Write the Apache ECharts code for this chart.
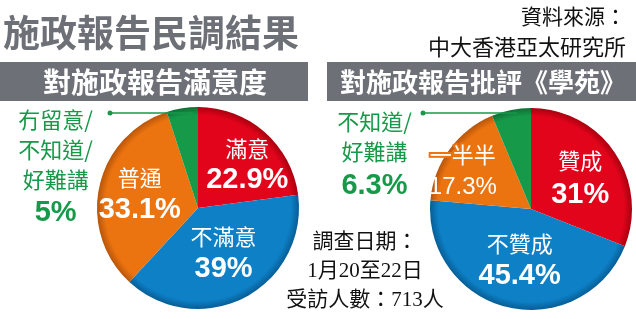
<!DOCTYPE html>
<html><head><meta charset="utf-8">
<script src="https://cdn.jsdelivr.net/npm/echarts@6/dist/echarts.min.js"></script>
<style>html,body{margin:0;padding:0;background:#fff}#c{width:636px;height:319px}</style>
</head><body><div id="c"></div>
<script>
const leftNames = ['滿意', '不滿意', '普通', '冇留意/\n不知道/\n好難講'];
const leftValues = [22.9, 39, 33.1, 5];
const rightNames = ['贊成', '不贊成', '一半半', '不知道/\n好難講'];
const rightValues = [31, 45.4, 17.3, 6.3];
const mainTitle = '施政報告民調結果';
const sourceLines = ['資料來源：', '中大香港亞太研究所'];
const leftHeader = '對施政報告滿意度';
const rightHeader = '對施政報告批評《學苑》';
const noteLines = ['調查日期：', '1月20至22日', '受訪人數：713人'];

const RED = '#e2041b', BLUE = '#0d80c6', ORANGE = '#ec7410', GREEN = '#17994a';
const baseColors = [RED, BLUE, ORANGE, GREEN];
const darkColors = ['#a8000f', '#075d95', '#b8550a', '#0e6f34'];
const GRAY = '#6d7077';
const CJK = '"Noto Sans CJK TC", "Noto Sans CJK SC", sans-serif';
const NUM = '"Liberation Sans", Arial, sans-serif';

function grad(cx, cy, r, i) {
  return {type: 'radial', x: cx, y: cy, r: r, global: true,
    colorStops: [{offset: 0, color: baseColors[i]}, {offset: 0.92, color: baseColors[i]}, {offset: 1, color: darkColors[i]}]};
}

const rich = {
  n: {color: '#fff', fontSize: 22, fontFamily: CJK, lineHeight: 31},
  v: {color: '#fff', fontSize: 29, fontWeight: 'bold', fontFamily: NUM, lineHeight: 33},
  rv: {color: '#fff', fontSize: 29, fontWeight: 'bold', fontFamily: NUM, lineHeight: 39},
  gn: {color: GREEN, fontSize: 22, fontFamily: CJK, lineHeight: 30},
  gv: {color: GREEN, fontSize: 29, fontWeight: 'bold', fontFamily: NUM, lineHeight: 37},
  on: {color: '#fff', fontSize: 22, fontFamily: CJK, lineHeight: 31, textBorderColor: ORANGE, textBorderWidth: 4},
  ov: {color: '#fff', fontSize: 24, fontFamily: NUM, lineHeight: 33}
};

function buildData(names, values, cx, cy, r, offsets, styles) {
  return names.map((n, i) => ({
    name: n, value: values[i],
    itemStyle: {color: grad(cx, cy, r, i)},
    label: {offset: offsets[i], formatter: '{' + styles[i][0] + '|' + n + '}\n{' + styles[i][1] + '|' + values[i] + '%}'}
  }));
}

const LC = [198, 208], RC = [531, 209], R = 101;
const leftData = buildData(leftNames, leftValues, LC[0], LC[1], R,
  [[14, -3], [1, -2], [-6, -2], [-134, 13]], [['n','v'],['n','v'],['n','v'],['gn','gv']]);
const rightData = buildData(rightNames, rightValues, RC[0], RC[1], R,
  [[5, 1], [1, -1], [-25, -6], [-146, -1]], [['n','rv'],['n','v'],['on','ov'],['gn','gv']]);

const pieBase = {
  type: 'pie', radius: R, startAngle: 90, clockwise: true, silent: true,
  label: {show: true, position: 'inside', rich: rich, align: 'center'},
  labelLine: {show: false}, emphasis: {disabled: true}
};

const graphics = [
  {type: 'text', left: 3, top: 14, style: {text: mainTitle, font: 'bold 37px ' + CJK, fill: GRAY}},
  {type: 'text', right: 10, top: 6, style: {text: sourceLines[0], font: '21px ' + CJK, fill: '#111'}},
  {type: 'text', right: 10, top: 36, style: {text: sourceLines[1], font: '22px ' + CJK, fill: '#111'}},
  {type: 'rect', shape: {x: 0, y: 62, width: 308, height: 39}, style: {fill: GRAY}},
  {type: 'rect', shape: {x: 327, y: 62, width: 309, height: 39}, style: {fill: GRAY}},
  {type: 'text', x: 155, y: 82, style: {text: leftHeader, font: 'bold 28px ' + CJK, fill: '#fff', align: 'center', verticalAlign: 'middle'}},
  {type: 'text', x: 483, y: 82, style: {text: rightHeader, font: 'bold 26px ' + CJK, fill: '#fff', align: 'center', verticalAlign: 'middle'}},
  {type: 'line', shape: {x1: 110, y1: 113, x2: 193, y2: 113}, style: {stroke: GREEN, lineWidth: 1.5}, z: 10},
  {type: 'circle', shape: {cx: 110, cy: 113, r: 2.5}, style: {fill: GREEN}, z: 10},
  {type: 'line', shape: {x1: 423, y1: 113, x2: 517, y2: 113}, style: {stroke: GREEN, lineWidth: 1.5}, z: 10},
  {type: 'circle', shape: {cx: 423, cy: 113, r: 2.5}, style: {fill: GREEN}, z: 10}
];
const noteY = [242, 271, 300];
noteLines.forEach((t, i) => graphics.push({type: 'text', x: 365, y: noteY[i],
  style: {text: t, font: '21px "Liberation Serif", ' + CJK, fill: '#111', align: 'center', verticalAlign: 'middle'}, z: 5}));

const chart = echarts.init(document.getElementById('c'), null, {renderer: 'canvas'});
chart.setOption({
  animation: false,
  backgroundColor: '#fff',
  graphic: graphics,
  series: [
    Object.assign({}, pieBase, {center: LC, data: leftData}),
    Object.assign({}, pieBase, {center: RC, data: rightData})
  ]
});
</script></body></html>
